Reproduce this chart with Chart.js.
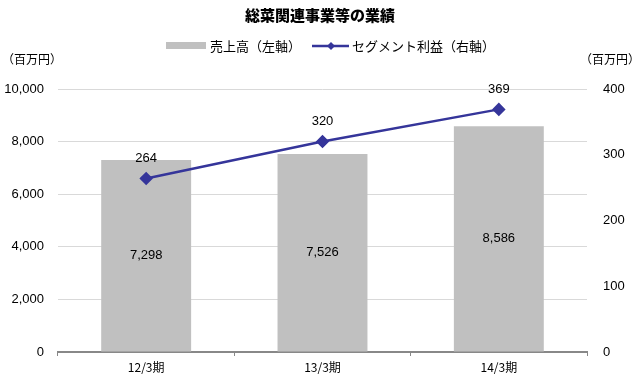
<!DOCTYPE html>
<html>
<head>
<meta charset="utf-8">
<script src="https://cdn.jsdelivr.net/npm/chart.js@4"></script>
<style>
  html, body { margin: 0; padding: 0; background: #fff; }
  #wrap { width: 640px; height: 381px; }
</style>
</head>
<body>
<div id="wrap"><canvas id="chart" width="640" height="381"></canvas></div>
<script>
  var categories = ['12/3期', '13/3期', '14/3期'];
  var salesValues = [7298, 7526, 8586];
  var profitValues = [264, 320, 369];
  var leftTicks = [0, 2000, 4000, 6000, 8000, 10000];
  var rightTicks = [0, 100, 200, 300, 400];

  var titleText = '総菜関連事業等の業績';
  var salesLabel = '売上高（左軸）';
  var profitLabel = 'セグメント利益（右軸）';
  var unitText = '（百万円）';

  var barColor = '#c0c0c0';
  var lineColor = '#35359a';
  var jpFont = "'Noto Sans CJK JP', sans-serif";
  var numFont = "'Liberation Sans', Arial, sans-serif";

  function fmt(v) { return v.toLocaleString('en-US'); }

  // title, legend, unit labels and value labels
  var overlay = {
    id: 'overlay',
    afterDatasetsDraw: function(chart) {
      var ctx = chart.ctx;
      ctx.save();
      ctx.fillStyle = '#000';
      ctx.textBaseline = 'middle';

      ctx.font = '900 15px ' + jpFont;
      ctx.textAlign = 'center';
      ctx.fillText(titleText, 320, 15);

      // legend
      ctx.font = '13px ' + jpFont;
      ctx.textAlign = 'left';
      ctx.fillStyle = barColor;
      ctx.fillRect(166, 42, 40, 7);
      ctx.fillStyle = '#000';
      ctx.fillText(salesLabel, 210, 46);
      ctx.strokeStyle = lineColor;
      ctx.lineWidth = 2.5;
      ctx.beginPath();
      ctx.moveTo(312, 46);
      ctx.lineTo(349, 46);
      ctx.stroke();
      ctx.fillStyle = lineColor;
      ctx.beginPath();
      ctx.moveTo(331, 42); ctx.lineTo(335, 46); ctx.lineTo(331, 50); ctx.lineTo(327, 46);
      ctx.closePath();
      ctx.fill();
      ctx.fillStyle = '#000';
      ctx.fillText(profitLabel, 352, 46);

      // units
      ctx.font = '12px ' + jpFont;
      ctx.fillText(unitText, 2, 59);
      ctx.textAlign = 'right';
      ctx.fillText(unitText, 640, 59);

      // value labels
      ctx.font = '13px ' + numFont;
      ctx.textAlign = 'center';
      var barMeta = chart.getDatasetMeta(0);
      barMeta.data.forEach(function(bar, i) {
        ctx.fillText(fmt(salesValues[i]), bar.x, (bar.y + bar.base) / 2);
      });
      var lineMeta = chart.getDatasetMeta(1);
      lineMeta.data.forEach(function(pt, i) {
        ctx.fillText(fmt(profitValues[i]), pt.x, pt.y - 20);
      });
      ctx.restore();
    }
  };

  new Chart(document.getElementById('chart'), {
    data: {
      labels: categories,
      datasets: [
        {
          type: 'bar',
          label: salesLabel,
          data: salesValues,
          backgroundColor: barColor,
          yAxisID: 'y',
          categoryPercentage: 1,
          barPercentage: 0.51,
          order: 2
        },
        {
          type: 'line',
          label: profitLabel,
          data: profitValues,
          borderColor: lineColor,
          backgroundColor: lineColor,
          borderWidth: 2.5,
          pointStyle: 'rectRot',
          pointRadius: 5,
          pointBackgroundColor: lineColor,
          pointBorderColor: lineColor,
          yAxisID: 'y1',
          order: 1
        }
      ]
    },
    options: {
      responsive: false,
      animation: false,
      layout: { padding: { top: 89, right: 0, left: 0, bottom: 0 } },
      plugins: {
        legend: { display: false },
        tooltip: { enabled: false }
      },
      scales: {
        x: {
          offset: true,
          grid: { offset: true, drawOnChartArea: false, color: '#888', tickLength: 4, lineWidth: 1 },
          border: { color: '#888', width: 2 },
          ticks: { color: '#000', font: { family: jpFont, size: 12 }, padding: 4 },
          afterFit: function(s) { s.height = 29; }
        },
        y: {
          position: 'left',
          min: 0,
          max: 10000,
          afterBuildTicks: function(s) { s.ticks = leftTicks.map(function(v) { return { value: v }; }); },
          grid: { color: '#d9d9d9', drawTicks: false },
          border: { display: false },
          ticks: { color: '#000', font: { family: numFont, size: 13 }, padding: 14,
                   callback: function(v) { return fmt(v); } },
          afterFit: function(s) { s.width = 58; }
        },
        y1: {
          position: 'right',
          min: 0,
          max: 400,
          afterBuildTicks: function(s) { s.ticks = rightTicks.map(function(v) { return { value: v }; }); },
          grid: { drawOnChartArea: false, drawTicks: false },
          border: { display: false },
          ticks: { color: '#000', font: { family: numFont, size: 13 }, padding: 16 },
          afterFit: function(s) { s.width = 53; }
        }
      }
    },
    plugins: [overlay]
  });
</script>
</body>
</html>
